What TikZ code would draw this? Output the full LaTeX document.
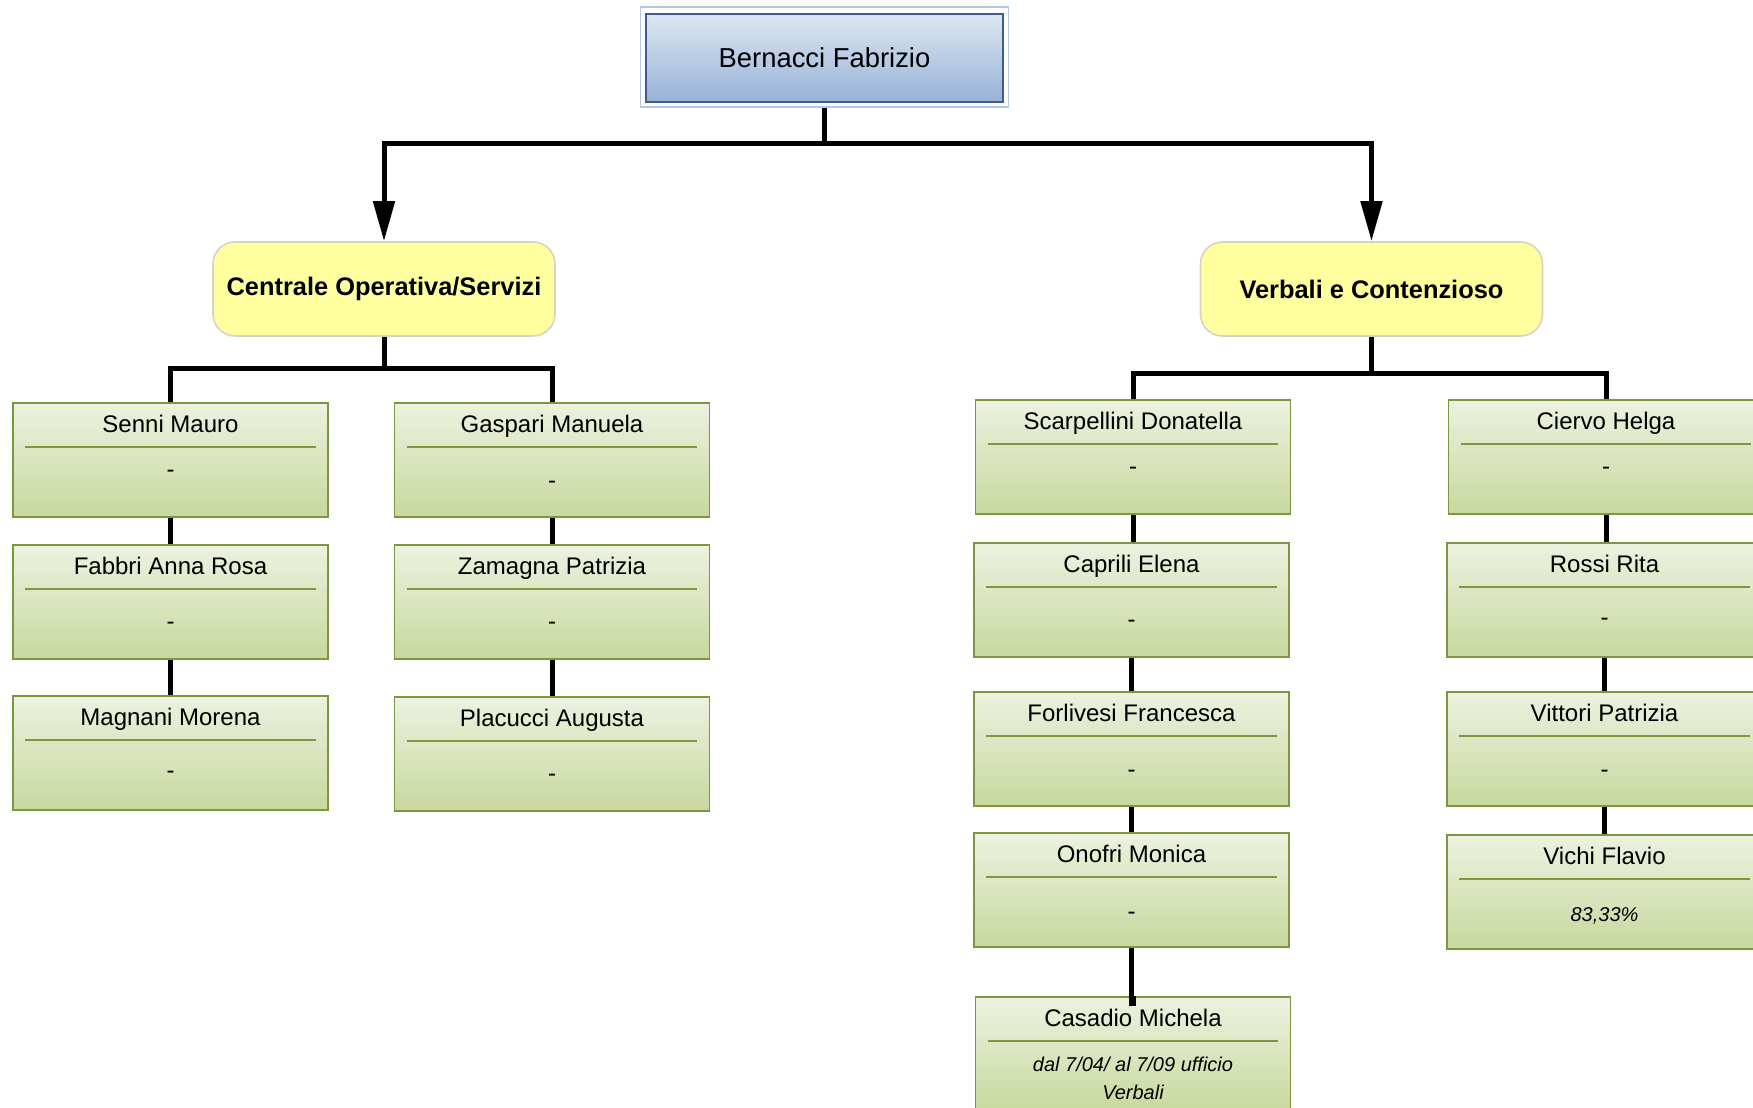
\documentclass[tikz,border=0pt]{standalone}
\usepackage{fontspec}
\setmainfont{Liberation Sans}
\usetikzlibrary{arrows.meta}
\definecolor{gtop}{RGB}{236,242,224}
\definecolor{gbot}{RGB}{200,216,158}
\definecolor{gbord}{RGB}{124,152,62}
\definecolor{btop}{RGB}{222,232,244}
\definecolor{bbot}{RGB}{150,178,214}
\definecolor{bbord}{RGB}{62,92,146}
\definecolor{bframe}{RGB}{180,200,226}
\definecolor{yfill}{RGB}{255,255,160}
\definecolor{ybord}{RGB}{212,212,196}
\tikzset{
  pbox/.style={rectangle, draw=gbord, line width=0.9pt, top color=gtop, bottom color=gbot,
    minimum width=157.5pt, minimum height=57pt, inner sep=0pt},
  ttl/.style={font=\fontsize{12}{14}\selectfont, inner sep=0pt, text height=9pt, text depth=2.5pt},
  subt/.style={font=\fontsize{12}{14}\selectfont, inner sep=0pt, align=center},
  sep/.style={draw=gbord, line width=0.8pt},
  conn/.style={draw=black, line width=2.5pt},
  arr/.style={conn, -{Triangle[length=20pt,width=10.5pt]}},
  unitbox/.style={rectangle, rounded corners=11pt, draw=ybord, line width=0.8pt, fill=yfill,
    minimum width=171pt, minimum height=47pt, font=\bfseries\fontsize{12.7}{15}\selectfont},
}
\newcommand\pbox[6]{%
  \node[pbox, anchor=north] (#1) at (#2,#3) {};
  \node[ttl] (#1t) at ([yshift=-12.2pt]#1.north) {#4};
  \draw[sep] ([xshift=6.5pt,yshift=-22.5pt]#1.north west) -- ([xshift=-6.5pt,yshift=-22.5pt]#1.north east);
  \node[subt] (#1s) at ([yshift=-#6*0.5pt-2pt]#1.north) {#5};
}
\begin{document}
\begin{tikzpicture}[x=0.5pt,y=-0.5pt]
\clip (0,0) rectangle (1753,1108);
\fill[white] (0,0) rectangle (1753,1108);
% boss
\node[rectangle, draw=bframe, line width=0.6pt, minimum width=184pt, minimum height=50pt, inner sep=0pt] (boss) at (824.5,57) {};
\node[rectangle, draw=bbord, line width=1pt, top color=btop, bottom color=bbot, minimum width=178.5pt, minimum height=44pt, inner sep=0pt,
  font=\fontsize{13.7}{16}\selectfont] (bossin) at (824.5,57.5) {Bernacci Fabrizio};
% units
\node[unitbox] (cop) at (384,289) {Centrale Operativa/Servizi};
\node[unitbox] (verb) at (1371.5,289) {Verbali e Contenzioso};
\coordinate (busT) at (824.5,143);
\draw[arr] (boss.south) -- (busT) -| (cop.north);
\draw[arr] (busT) -| (verb.north);
% left people
\pbox{senni}{170.5}{402}{Senni Mauro}{-}{68}
\pbox{fabbri}{170.5}{544}{Fabbri Anna Rosa}{-}{78}
\pbox{magnani}{170.5}{695}{Magnani Morena}{-}{76}
\pbox{gaspari}{552}{402}{Gaspari Manuela}{-}{79}
\pbox{zamagna}{552}{544}{Zamagna Patrizia}{-}{78}
\pbox{placucci}{552}{696}{Placucci Augusta}{-}{78}
% right people
\pbox{scarp}{1133}{399}{Scarpellini Donatella}{-}{68}
\pbox{caprili}{1131.5}{542}{Caprili Elena}{-}{78}
\pbox{forl}{1131.5}{691}{Forlivesi Francesca}{-}{79}
\pbox{onofri}{1131.5}{832}{Onofri Monica}{-}{80}
\pbox{casadio}{1133}{996}{Casadio Michela}{\fontsize{10}{13}\selectfont\itshape dal 7/04/ al 7/09 ufficio\\\fontsize{10}{13}\selectfont\itshape Verbali}{78}
\pbox{ciervo}{1606}{399}{Ciervo Helga}{-}{68}
\pbox{rossi}{1604.5}{542}{Rossi Rita}{-}{76}
\pbox{vittori}{1604.5}{691}{Vittori Patrizia}{-}{79}
\pbox{vichi}{1604.5}{834}{Vichi Flavio}{\fontsize{10}{13}\selectfont\itshape 83,33\%}{78}
% buses
\coordinate (busL) at (384,368);
\coordinate (busR) at (1371.5,373);
\draw[conn] (cop.south) -- (busL) -| (senni.north);
\draw[conn] (busL) -| (gaspari.north);
\draw[conn] (verb.south) -- (busR) -| (scarp.north);
\draw[conn] (busR) -| (ciervo.north);
% chains
\draw[conn] (senni.south) -- (fabbri.north);
\draw[conn] (fabbri.south) -- (magnani.north);
\draw[conn] (gaspari.south) -- (zamagna.north);
\draw[conn] (zamagna.south) -- (placucci.north);
\draw[conn] (scarp.south) -- (scarp.south |- caprili.north);
\draw[conn] (caprili.south) -- (forl.north);
\draw[conn] (forl.south) -- (onofri.north);
\draw[conn] (onofri.south) -- ++(0,-28pt) -| (casadio.north);
\draw[conn] (ciervo.south) -- (ciervo.south |- rossi.north);
\draw[conn] (rossi.south) -- (vittori.north);
\draw[conn] (vittori.south) -- (vichi.north);
\end{tikzpicture}
\end{document}
